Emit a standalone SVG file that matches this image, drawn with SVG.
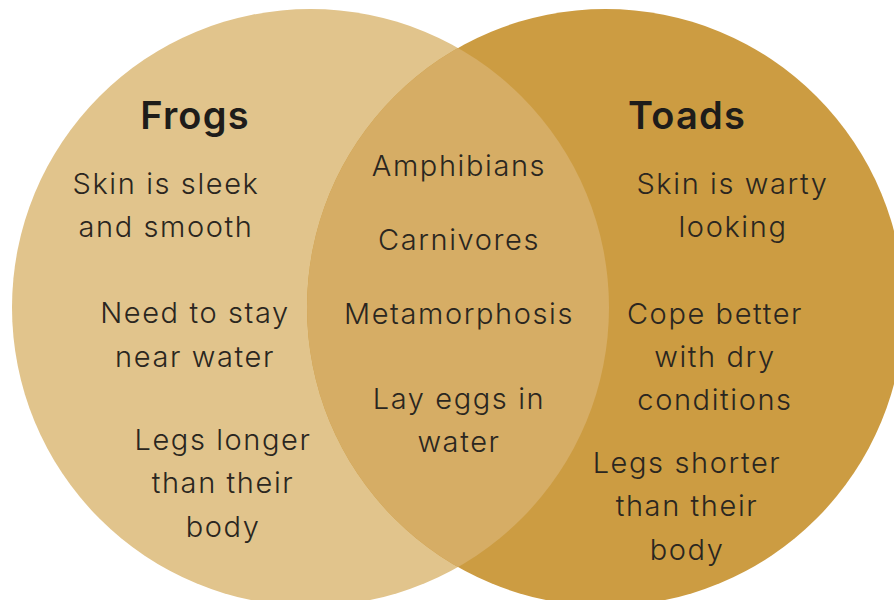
<svg xmlns="http://www.w3.org/2000/svg" width="894" height="600" viewBox="0 0 894 600">
<style>
.t{font-family:Inter,"Open Sans","Liberation Sans",sans-serif;font-weight:300;font-size:29px;letter-spacing:1.6px;fill:#2a2620;text-anchor:middle}
.h{font-family:Inter,"Open Sans","Liberation Sans",sans-serif;font-weight:600;font-size:38px;letter-spacing:1.2px;fill:#1e1c1a;text-anchor:middle}
</style>
<defs>
<clipPath id="clipL"><circle cx="310.5" cy="307.5" r="298.5"/></clipPath>
</defs>
<rect width="894" height="600" fill="#ffffff"/>
<g id="frogs">
<circle cx="310.5" cy="307.5" r="298.5" fill="#E1C48C"/>
</g>
<g id="toads">
<circle cx="605.5" cy="307.5" r="298.5" fill="#CC9C42"/>
</g>
<g id="both">
<circle cx="605.5" cy="307.5" r="298.5" fill="#D6AD65" clip-path="url(#clipL)"/>
</g>
<g id="connectors"/>
<g id="frogs-text">
<text class="h" x="195" y="129">Frogs</text>
<text class="t" x="166" y="194">Skin is sleek</text>
<text class="t" x="166" y="237">and smooth</text>
<text class="t" x="195" y="323">Need to stay</text>
<text class="t" x="195" y="367">near water</text>
<text class="t" x="223" y="450">Legs longer</text>
<text class="t" x="223" y="493">than their</text>
<text class="t" x="223" y="537">body</text>
</g>
<g id="both-text">
<text class="t" x="459" y="176">Amphibians</text>
<text class="t" x="459" y="250">Carnivores</text>
<text class="t" x="459" y="324">Metamorphosis</text>
<text class="t" x="459" y="409">Lay eggs in</text>
<text class="t" x="459" y="452">water</text>
</g>
<g id="toads-text">
<text class="h" x="687" y="129">Toads</text>
<text class="t" x="732.5" y="194">Skin is warty</text>
<text class="t" x="733" y="237">looking</text>
<text class="t" x="715" y="324">Cope better</text>
<text class="t" x="715" y="367">with dry</text>
<text class="t" x="715" y="410">conditions</text>
<text class="t" x="687" y="473">Legs shorter</text>
<text class="t" x="687" y="516">than their</text>
<text class="t" x="687" y="560">body</text>
</g>
</svg>
